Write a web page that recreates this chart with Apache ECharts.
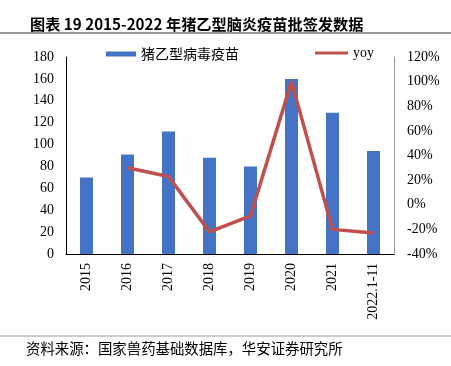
<!DOCTYPE html>
<html><head><meta charset="utf-8">
<script src="https://cdn.jsdelivr.net/npm/echarts@6/dist/echarts.min.js"></script>
<style>html,body{margin:0;padding:0;background:#fff}#c{width:451px;height:366px}</style>
</head><body><div id="c"></div>
<script>
const categories = ['2015','2016','2017','2018','2019','2020','2021','2022.1-11'];
const vaccine = [70, 91, 112, 88, 80, 160, 129, 94];
const yoy = [null, 30, 23, -22, -9, 100, -20, -23];
const leftTicks = [0, 180, 20];
const rightTicks = [-40, 120, 20];

const chart = echarts.init(document.getElementById('c'));
const serif = 'Liberation Serif';
const cjk = 'Noto Sans CJK SC';
chart.setOption({
  animation: false,
  title: {
    text: '图表 19 2015-2022 年猪乙型脑炎疫苗批签发数据',
    left: 25, top: 12,
    textStyle: {fontSize: 15.2, fontWeight: 'bold', fontFamily: cjk, color: '#000'}
  },
  legend: [
    {data: [{name: '猪乙型病毒疫苗', icon: 'rect'}], left: 101, top: 42, itemWidth: 30, itemHeight: 5, itemGap: 6,
     textStyle: {fontSize: 14, fontFamily: cjk, color: '#000'}},
    {data: [{name: 'yoy', icon: 'rect'}], left: 310, top: 41, itemWidth: 33, itemHeight: 3, itemGap: 2,
     textStyle: {fontSize: 14, fontFamily: serif, color: '#000', padding: [0,0,4,0]}}
  ],
  graphic: [
    {type: 'line', shape: {x1: 0, y1: 33, x2: 451, y2: 33}, style: {stroke: '#999', lineWidth: 2}},
    {type: 'line', shape: {x1: 0, y1: 336, x2: 451, y2: 336}, style: {stroke: '#999', lineWidth: 1}},
    {type: 'text', left: 26, top: 341, style: {text: '资料来源：国家兽药基础数据库，华安证券研究所', fontSize: 14.4, fontFamily: cjk, fill: '#000'}}
  ],
  grid: {left: 66, right: 57, top: 57, bottom: 112},
  xAxis: {
    type: 'category', data: categories,
    axisLine: {lineStyle: {color: '#000', width: 1}},
    axisTick: {show: false},
    axisLabel: {rotate: 90, fontSize: 14, fontFamily: serif, color: '#000', margin: 9}
  },
  yAxis: [
    {type: 'value', min: leftTicks[0], max: leftTicks[1], interval: leftTicks[2],
     axisLine: {show: true, lineStyle: {color: '#000'}},
     axisTick: {show: false},
     splitLine: {show: false},
     axisLabel: {fontSize: 14, fontFamily: serif, color: '#000', margin: 12}},
    {type: 'value', min: rightTicks[0], max: rightTicks[1], interval: rightTicks[2],
     axisLine: {show: true, lineStyle: {color: '#999'}},
     axisTick: {show: false},
     splitLine: {show: false},
     axisLabel: {fontSize: 14, fontFamily: serif, color: '#000', margin: 13, formatter: '{value}%'}}
  ],
  series: [
    {name: '猪乙型病毒疫苗', type: 'bar', data: vaccine, barWidth: 13,
     itemStyle: {color: '#4472C4'}},
    {name: 'yoy', type: 'line', yAxisIndex: 1, data: yoy, symbol: 'none',
     lineStyle: {color: '#C0504D', width: 3.5}, itemStyle: {color: '#C0504D'}}
  ]
});
</script></body></html>
